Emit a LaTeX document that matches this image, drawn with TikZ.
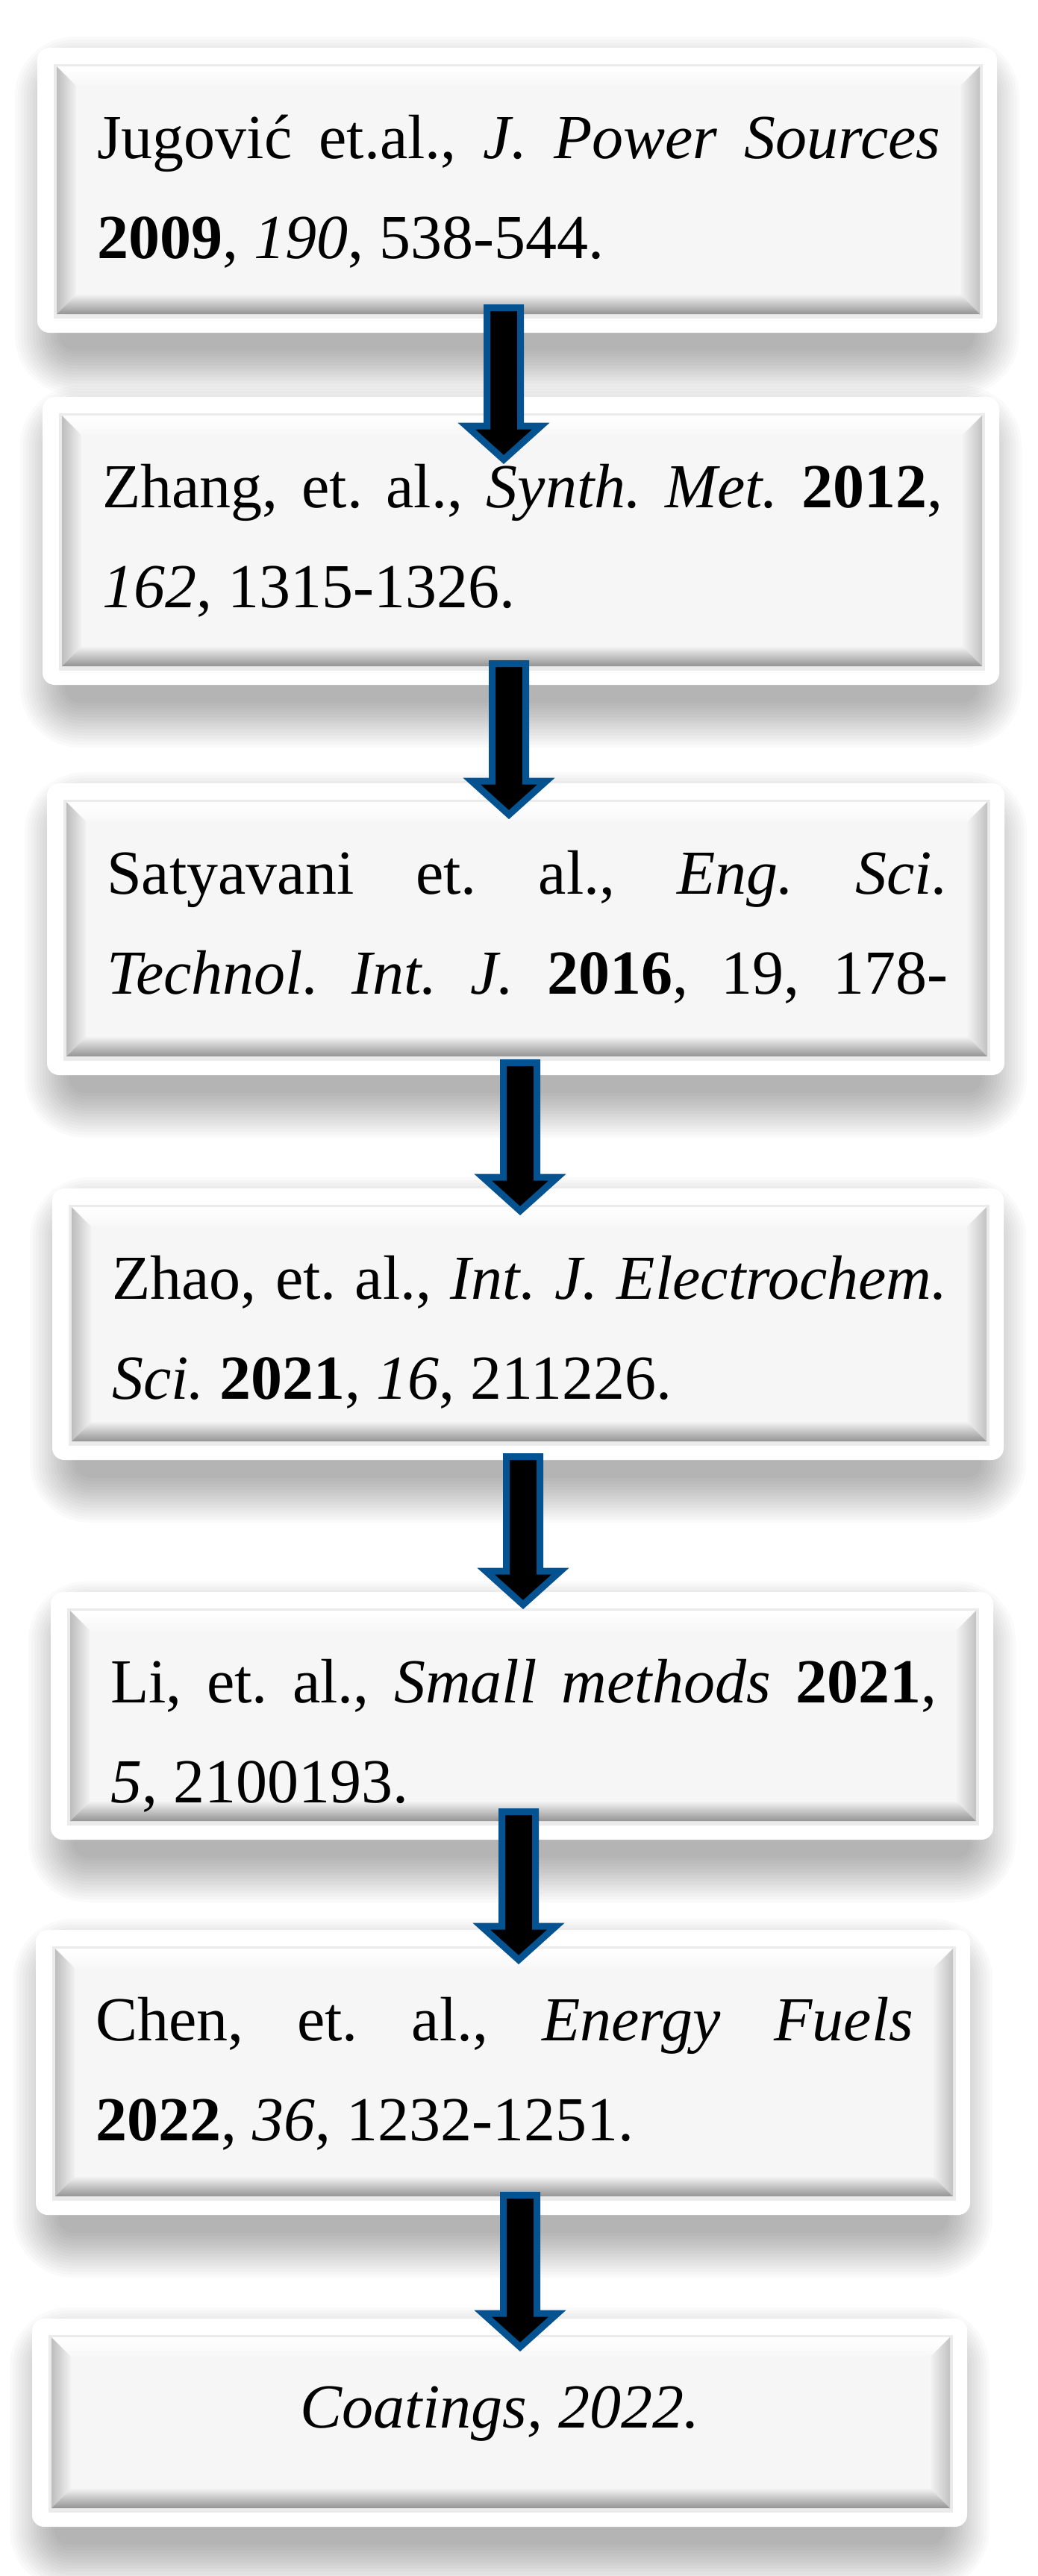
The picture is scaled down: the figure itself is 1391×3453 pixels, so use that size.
\documentclass[tikz,border=0pt]{standalone}
\usepackage{fontspec}
\setmainfont{Liberation Serif}
\usetikzlibrary{calc,fit}
\definecolor{arrowblue}{RGB}{4,82,144}
\newcommand{\reffont}{\fontsize{84}{134}\selectfont\frenchspacing}
\tikzset{
  arrowbody/.style={fill=black, draw=arrowblue, line width=9pt, line join=miter, miter limit=10},
  reftext/.style={anchor=base west, inner sep=0pt, font=\reffont},
  reftextc/.style={anchor=base, inner sep=0pt, font=\reffont},
  boxnode/.style={rectangle, inner sep=0pt, draw=none},
}
% #1 name, #2 L, #3 T, #4 R, #5 B  (image pixel coordinates, y downwards)
\newcommand{\fancybox}[5]{%
  \foreach \k in {0,...,15}{%
    \pgfmathsetmacro{\rr}{20+\k*4}%
    \fill[black, opacity=0.02, rounded corners=\rr pt] (#2+30-\k*4, #3+45-\k*4) rectangle (#4-30+\k*4, #5+24+\k*4);
  }
  \fill[white, rounded corners=16pt] (#2,#3) rectangle (#4,#5);
  \pgfmathsetmacro{\bL}{#2+26}\pgfmathsetmacro{\bT}{#3+25}%
  \pgfmathsetmacro{\bR}{#4-23}\pgfmathsetmacro{\bB}{#5-25}%
  \fill[black!8] (\bL-4,\bT-3) rectangle (\bR+4,\bB+6);
  \shade[top color=white, bottom color=black!3] (\bL,\bT) -- (\bR,\bT) -- (\bR-26,\bT+26) -- (\bL+26,\bT+26) -- cycle;
  \shade[left color=black!26, right color=black!5] (\bL,\bT) -- (\bL+26,\bT+26) -- (\bL+26,\bB-26) -- (\bL,\bB) -- cycle;
  \shade[left color=black!5, right color=black!24] (\bR,\bT) -- (\bR-26,\bT+26) -- (\bR-26,\bB-26) -- (\bR,\bB) -- cycle;
  \shade[top color=black!5, bottom color=black!42] (\bL,\bB) -- (\bL+26,\bB-26) -- (\bR-26,\bB-26) -- (\bR,\bB) -- cycle;
  \fill[black!3.5] (\bL+26,\bT+26) rectangle (\bR-26,\bB-26);
  \node[boxnode, fit={(#2,#3) (#4,#5)}] (#1) {};
}
\newcommand{\blockarrow}[2]{%
  \draw[arrowbody] ($(#1)+(-22.5,0)$) -- ($(#2)+(-22.5,-45)$) -- ($(#2)+(-50,-45)$) -- (#2)
    -- ($(#2)+(50,-45)$) -- ($(#2)+(22.5,-45)$) -- ($(#1)+(22.5,0)$) -- cycle;}
\begin{document}
\begin{tikzpicture}[x=1pt,y=-1pt]
\fill[white] (0,0) rectangle (1391,3453);
\useasboundingbox (0,0) rectangle (1391,3453);

\fancybox{b1}{50}{64}{1336}{446}
\fancybox{b2}{57}{532}{1339}{918}
\fancybox{b3}{63}{1050}{1346}{1441}
\fancybox{b4}{70}{1593}{1345}{1957}
\fancybox{b5}{68}{2134}{1331}{2466}
\fancybox{b6}{48}{2587}{1300}{2969}
\fancybox{b7}{43}{3108}{1296}{3387}

% texts
\node[reftext] (t1a) at (130,212) {\makebox[1130pt][s]{Jugović et.al., \textit{J. Power Sources}}};
\node[reftext] (t1b) at (130,346) {\textbf{2009}, \textit{190}, 538-544.};

\node[reftext] (t2a) at (137,680) {\makebox[1126pt][s]{Zhang, et. al., \textit{Synth. Met.} \textbf{2012},}};
\node[reftext] (t2b) at (137,814) {\textit{162}, 1315-1326.};

\node[reftext] (t3a) at (143,1198) {\makebox[1127pt][s]{Satyavani et. al., \textit{Eng. Sci.}}};
\node[reftext] (t3b) at (143,1332) {\makebox[1127pt][s]{\textit{Technol. Int. J.} \textbf{2016}, 19, 178-}};

\node[reftext] (t4a) at (150,1741) {\makebox[1119pt][s]{Zhao, et. al., \textit{Int. J. Electrochem.}}};
\node[reftext] (t4b) at (150,1875) {\textit{Sci.} \textbf{2021}, \textit{16}, 211226.};

\node[reftext] (t5a) at (148,2282) {\makebox[1107pt][s]{Li, et. al., \textit{Small methods} \textbf{2021},}};
\node[reftext] (t5b) at (148,2416) {\textit{5}, 2100193.};

\node[reftext] (t6a) at (128,2735) {\makebox[1096pt][s]{Chen, et. al., \textit{Energy Fuels}}};
\node[reftext] (t6b) at (128,2869) {\textbf{2022}, \textit{36}, 1232-1251.};

\node[reftextc] (t7) at (670,3254) {\textit{Coatings, 2022.}};

% arrows
\coordinate (a1s) at (675,412.5);  \coordinate (a1e) at (675,616);
\coordinate (a2s) at (682,889.5);  \coordinate (a2e) at (682,1092);
\coordinate (a3s) at (697,1424.5); \coordinate (a3e) at (697,1623);
\coordinate (a4s) at (701,1952.5); \coordinate (a4e) at (701,2151);
\coordinate (a5s) at (695,2428.5); \coordinate (a5e) at (695,2627);
\coordinate (a6s) at (697,2942.5); \coordinate (a6e) at (697,3146);
\blockarrow{a1s}{a1e}
\blockarrow{a2s}{a2e}
\blockarrow{a3s}{a3e}
\blockarrow{a4s}{a4e}
\blockarrow{a5s}{a5e}
\blockarrow{a6s}{a6e}
\end{tikzpicture}
\end{document}
